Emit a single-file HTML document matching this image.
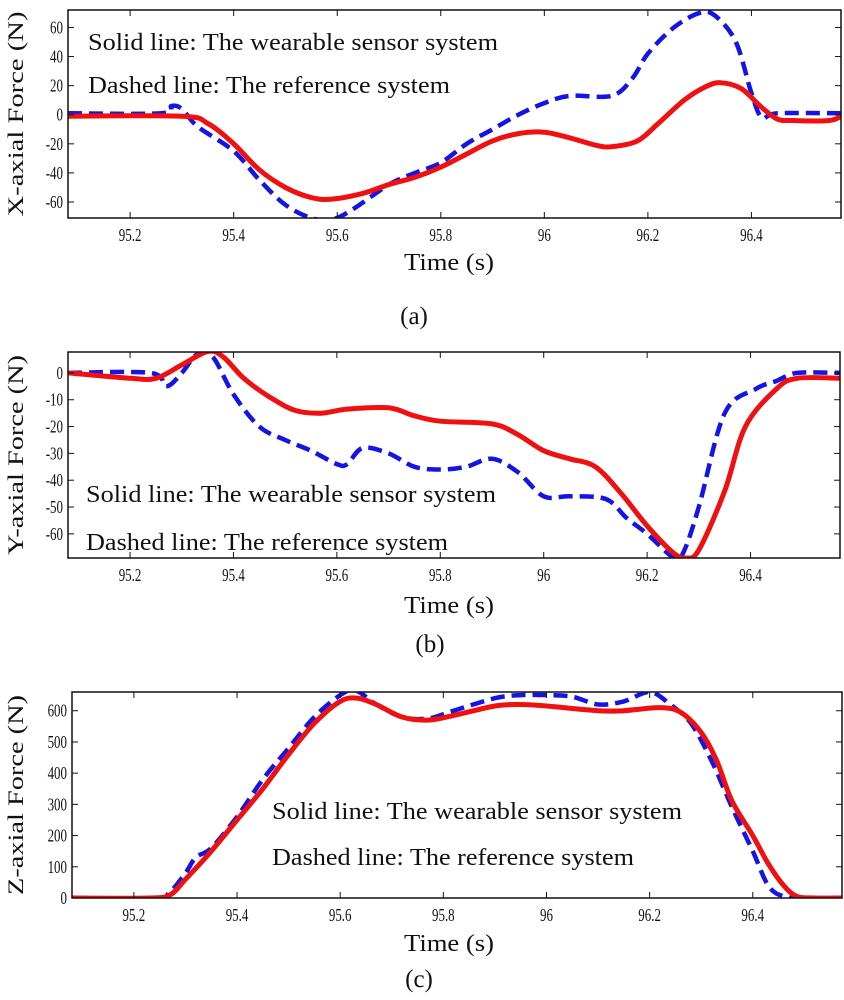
<!DOCTYPE html>
<html><head><meta charset="utf-8"><style>
body{margin:0;background:#fff;width:844px;height:1000px;overflow:hidden}
svg{display:block}
text{font-family:"Liberation Serif",serif;fill:#111}
</style></head><body>
<svg id="s" width="844" height="1000"></svg>
<script>
// Panel (a) X-axial data
const tA_sol=[95.08,95.3,95.35,95.4,95.45,95.5,95.55,95.59,95.65,95.7,95.75,95.8,95.85,95.9,95.95,96.0,96.05,96.1,96.13,96.18,96.22,96.27,96.31,96.34,96.38,96.42,96.45,96.48,96.55,96.573];
const vA_sol=[-1,-1,-6,-20,-38,-50,-57,-58,-54,-48,-43,-36,-27,-18,-13,-12,-16,-21,-22,-18,-6,10,19,22,18,5,-3,-4,-4,-1];
const tA_ref=[95.08,95.26,95.28,95.3,95.33,95.4,95.45,95.5,95.55,95.59,95.63,95.7,95.75,95.8,95.85,95.9,95.95,96.0,96.05,96.13,96.17,96.2,96.25,96.3,96.33,96.37,96.4,96.42,96.45,96.573];
const vA_ref=[1,1,6,4,-8,-25,-45,-62,-71,-72,-65,-48,-40,-33,-20,-10,0,8,13,13,25,42,60,70,68,50,15,-2,1,1];
// Panel (b) Y-axial data
const tB_sol=[95.08,95.2,95.25,95.3,95.35,95.38,95.42,95.47,95.52,95.57,95.62,95.7,95.75,95.8,95.9,95.95,96.0,96.05,96.1,96.15,96.2,96.25,96.275,96.3,96.35,96.39,96.45,96.49,96.573];
const vB_sol=[0,-2,-2,3,8,6,-2,-9,-14,-15,-13.5,-13,-16,-18,-19,-23,-29,-32,-35,-45,-57,-67,-69,-66,-44,-20,-6,-2,-2];
const tB_ref=[95.08,95.24,95.27,95.3,95.33,95.36,95.4,95.45,95.5,95.55,95.6,95.62,95.65,95.7,95.75,95.8,95.85,95.9,95.95,96.0,96.05,96.12,96.16,96.2,96.252,96.27,96.3,96.35,96.41,96.45,96.49,96.573];
const vB_ref=[0,0,-5,0,7,6,-8,-20,-25,-29,-34,-34,-28,-30,-35,-36,-35,-32,-37,-46,-46,-47,-54,-60,-69,-67,-50,-15,-6,-3,0,0];
// Panel (c) Z-axial data
const tC_sol=[95.08,95.23,95.27,95.3,95.35,95.4,95.45,95.5,95.55,95.6,95.634,95.67,95.72,95.77,95.82,95.9,95.95,96.0,96.1,96.15,96.22,96.26,96.3,96.33,96.36,96.4,96.43,96.46,96.486,96.52,96.573];
const vC_sol=[0,0,10,60,150,250,350,460,560,630,640,620,580,570,585,615,620,615,600,600,610,595,530,440,310,200,110,40,5,0,0];
const tC_ref=[95.08,95.24,95.27,95.3,95.32,95.35,95.4,95.45,95.5,95.55,95.6,95.63,95.67,95.72,95.77,95.82,95.9,95.95,96.0,96.05,96.1,96.15,96.2,96.24,96.28,96.32,96.36,96.4,96.43,96.46,96.5,96.573];
const vC_ref=[0,0,20,80,130,160,260,380,480,580,650,665,620,580,575,600,640,650,650,645,620,630,660,620,560,440,290,150,40,5,0,0];
const xTicks=[95.2,95.4,95.6,95.8,96,96.2,96.4];
const xTickLabels=["95.2","95.4","95.6","95.8","96","96.2","96.4"];
const yTicksA=[-60,-40,-20,0,20,40,60];
const yTicksB=[-60,-50,-40,-30,-20,-10,0];
const yTicksC=[0,100,200,300,400,500,600];

const NS="http://www.w3.org/2000/svg";
const svg=document.getElementById('s');
function mk(tag,attrs,parent){const e=document.createElementNS(NS,tag);for(const k in attrs)e.setAttribute(k,attrs[k]);(parent||svg).appendChild(e);return e;}

const panels=[
 {id:'a',L:68,R:841,T:10,B:218,ymin:-71,ymax:72,yt:yTicksA,title:"X-axial Force (N)",ts:tA_sol,vs:vA_sol,tr:tA_ref,vr:vA_ref,
  leg:[88,50,88,93],tickY:241,timeY:270,cap:"(a)",capX:414,capY:324},
 {id:'b',L:68,R:840,T:352,B:558,ymin:-69,ymax:7.8,yt:yTicksB,title:"Y-axial Force (N)",ts:tB_sol,vs:vB_sol,tr:tB_ref,vr:vB_ref,
  leg:[86,502,86,550],tickY:581,timeY:613,cap:"(b)",capX:430,capY:652},
 {id:'c',L:72,R:842,T:692,B:898,ymin:0,ymax:660,yt:yTicksC,title:"Z-axial Force (N)",ts:tC_sol,vs:vC_sol,tr:tC_ref,vr:vC_ref,
  leg:[272,819,272,865],tickY:921,timeY:951,cap:"(c)",capX:419,capY:987}
];
const tmin=95.08,tmax=96.573;
function smooth(pts){
 let d='M'+pts[0][0].toFixed(1)+','+pts[0][1].toFixed(1);
 for(let i=0;i<pts.length-1;i++){
  const p0=pts[Math.max(0,i-1)],p1=pts[i],p2=pts[i+1],p3=pts[Math.min(pts.length-1,i+2)];
  const c1x=p1[0]+(p2[0]-p0[0])/6,c1y=p1[1]+(p2[1]-p0[1])/6;
  const c2x=p2[0]-(p3[0]-p1[0])/6,c2y=p2[1]-(p3[1]-p1[1])/6;
  d+=`C${c1x.toFixed(1)},${c1y.toFixed(1)} ${c2x.toFixed(1)},${c2y.toFixed(1)} ${p2[0].toFixed(1)},${p2[1].toFixed(1)}`;
 }
 return d;
}
panels.forEach(p=>{
 const g=mk('g',{});
 
 
 const xs=t=>p.L+(t-tmin)/(tmax-tmin)*(p.R-p.L);
 const ys=v=>p.B-(v-p.ymin)/(p.ymax-p.ymin)*(p.B-p.T);
 const cp=mk('clipPath',{id:'cl'+p.id},g);
 mk('rect',{x:p.L,y:p.T,width:p.R-p.L,height:p.B-p.T},cp);
 const lines=mk('g',{'clip-path':'url(#cl'+p.id+')'},g);
 const path=(ts,vs)=>smooth(ts.map((t,i)=>[xs(t),ys(vs[i])]));
 const ref=mk('path',{d:path(p.tr,p.vr),fill:'none',stroke:'#1414e6','stroke-width':4.5,'stroke-dasharray':'14 7','stroke-linejoin':'round'},lines);
 
 
 const sol=mk('path',{d:path(p.ts,p.vs),fill:'none',stroke:'#f01010','stroke-width':5,'stroke-linejoin':'round'},lines);
 
 
 const box=mk('rect',{x:p.L,y:p.T,width:p.R-p.L,height:p.B-p.T,fill:'none',stroke:'#111','stroke-width':1.5},g);
 
 
 xTicks.forEach((t,i)=>{
  const x=xs(t);
  mk('line',{x1:x,x2:x,y1:p.B,y2:p.B-6,stroke:'#111','stroke-width':1},g);
  mk('line',{x1:x,x2:x,y1:p.T,y2:p.T+6,stroke:'#111','stroke-width':1},g);
  const tx=mk('text',{x:x,y:p.tickY,'text-anchor':'middle','font-size':18,transform:`translate(${x},0) scale(0.72,1) translate(${-x},0)`},g);
  tx.textContent=xTickLabels[i];
  
  
 });
 p.yt.forEach(v=>{
  const y=ys(v);
  mk('line',{x1:p.L,x2:p.L+6,y1:y,y2:y,stroke:'#111','stroke-width':1},g);
  mk('line',{x1:p.R,x2:p.R-6,y1:y,y2:y,stroke:'#111','stroke-width':1},g);
  const tx=mk('text',{x:p.L-5,y:y+6,'text-anchor':'end','font-size':18,transform:`translate(${p.L-5},0) scale(0.72,1) translate(${-(p.L-5)},0)`},g);
  tx.textContent=String(v);
  
  
 });
 const cy=(p.T+p.B)/2;
 const yt=mk('text',{x:0,y:0,'text-anchor':'middle','font-size':22,transform:`translate(23,${cy}) rotate(-90)`,textLength:p.id==='a'?205:200,lengthAdjust:'spacingAndGlyphs'},g);
 yt.textContent=p.title;
 
 
 const tl=mk('text',{x:449,y:p.timeY,'text-anchor':'middle','font-size':24,textLength:90,lengthAdjust:'spacingAndGlyphs'},g);
 tl.textContent='Time (s)';
 
 
 const l1=mk('text',{x:p.leg[0],y:p.leg[1],'font-size':24,textLength:410,lengthAdjust:'spacingAndGlyphs'},g);
 l1.textContent='Solid line: The wearable sensor system';
 
 
 const l2=mk('text',{x:p.leg[2],y:p.leg[3],'font-size':24,textLength:362,lengthAdjust:'spacingAndGlyphs'},g);
 l2.textContent='Dashed line: The reference system';
 
 
 const cap=mk('text',{x:p.capX,y:p.capY,'text-anchor':'middle','font-size':25},g);
 cap.textContent=p.cap;
 
 
});
</script>
</body></html>
